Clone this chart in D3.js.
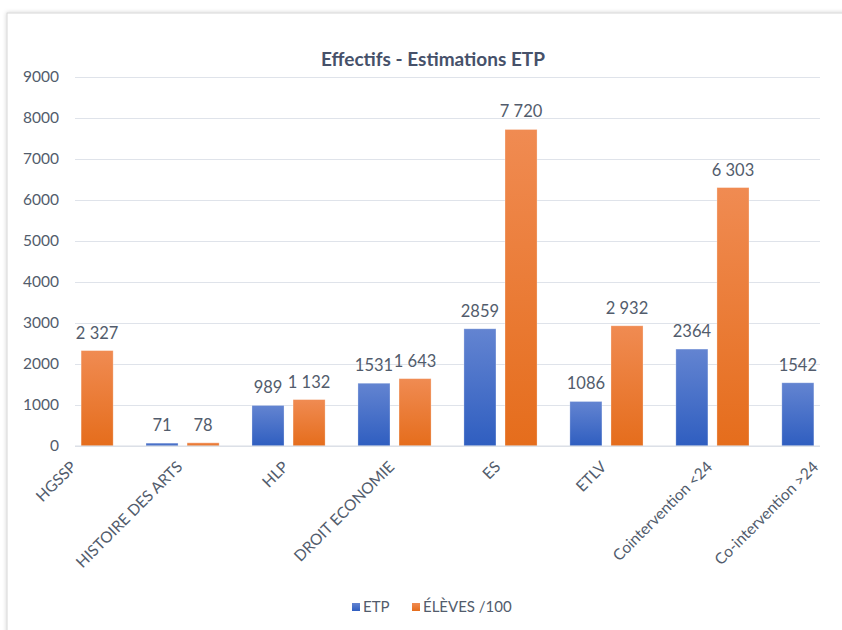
<!DOCTYPE html>
<html>
<head>
<meta charset="utf-8">
<script src="https://cdn.jsdelivr.net/npm/d3@7"></script>
<style>
  body { margin: 0; background: #fff; }
  svg { display: block; }
</style>
</head>
<body>
<svg id="chart" width="842" height="630"></svg>
<script>
// data
const categories = ["HGSSP", "HISTOIRE DES ARTS", "HLP", "DROIT ECONOMIE", "ES", "ETLV", "Cointervention <24", "Co-intervention >24"];
const etp = [null, 71, 989, 1531, 2859, 1086, 2364, 1542];
const eleves = [2327, 78, 1132, 1643, 7720, 2932, 6303, null];
const yTicks = [0, 1000, 2000, 3000, 4000, 5000, 6000, 7000, 8000, 9000];
const seriesNames = ["ETP", "ÉLÈVES /100"];

const textColor = "#525c6c";
const font = "Lato, 'Open Sans', sans-serif";

const svg = d3.select("#chart");
const defs = svg.append("defs");

// soft shadow for the chart card
const shadow = defs.append("filter").attr("id", "shadow")
    .attr("x", "-5%").attr("y", "-5%").attr("width", "110%").attr("height", "110%");
shadow.append("feDropShadow")
    .attr("dx", 0).attr("dy", 0).attr("stdDeviation", 2)
    .attr("flood-color", "#000").attr("flood-opacity", 0.18);

const gradients = [
    { id: "gBlue", top: "#6384d1", bottom: "#2f5ec0" },
    { id: "gOrange", top: "#f08b52", bottom: "#e56d1c" }
];
gradients.forEach(g => {
    const lg = defs.append("linearGradient").attr("id", g.id)
        .attr("x1", 0).attr("y1", 0).attr("x2", 0).attr("y2", 1);
    lg.append("stop").attr("offset", "0%").attr("stop-color", g.top);
    lg.append("stop").attr("offset", "100%").attr("stop-color", g.bottom);
});

svg.append("rect")
    .attr("x", 7).attr("y", 13)
    .attr("width", 900).attr("height", 640)
    .attr("fill", "#fff")
    .attr("stroke", "#d6d6d6")
    .attr("filter", "url(#shadow)");

const plotLeft = 75, plotRight = 820;

const y = d3.scaleLinear().domain([0, 9000]).range([446, 77]);

const x0 = d3.scaleBand()
    .domain(categories)
    .range([plotLeft, plotRight])
    .paddingInner(0.31)
    .paddingOuter(-0.33);

const x1 = d3.scaleBand()
    .domain([0, 1])
    .range([0, x0.bandwidth()])
    .paddingInner(0.22);

// title
svg.append("text")
    .attr("x", 433).attr("y", 66)
    .attr("text-anchor", "middle")
    .attr("font-family", font)
    .attr("font-weight", "bold")
    .attr("font-size", 19)
    .attr("fill", "#46516a")
    .text("Effectifs - Estimations ETP");

// gridlines + y axis labels
const yAxis = d3.axisLeft(y)
    .tickValues(yTicks)
    .tickSize(-(plotRight - plotLeft))
    .tickPadding(16)
    .tickFormat(d3.format("d"));

const yG = svg.append("g")
    .attr("transform", `translate(${plotLeft},0)`)
    .call(yAxis);
yG.select(".domain").remove();
yG.selectAll(".tick line").attr("stroke", "#dfe3ea").attr("stroke-width", 1);
yG.selectAll(".tick text")
    .attr("font-family", font)
    .attr("font-size", 15.5)
    .attr("fill", textColor);

// bars
const series = [etp, eleves];
const fills = ["url(#gBlue)", "url(#gOrange)"];
const fmtEtp = d3.format("d");
const frLocale = d3.formatLocale({ decimal: ",", thousands: "\u00a0", grouping: [3], currency: ["", " €"] });
const fmtEleves = frLocale.format(",d");
const formats = [fmtEtp, fmtEleves];

const barData = [];
categories.forEach((c, i) => {
    series.forEach((s, k) => {
        if (s[i] != null) barData.push({ cat: c, k: k, value: s[i] });
    });
});

const bars = svg.append("g");
bars.selectAll("rect")
    .data(barData)
    .join("rect")
    .attr("x", d => x0(d.cat) + x1(d.k))
    .attr("y", d => y(d.value))
    .attr("width", x1.bandwidth())
    .attr("height", d => y(0) - y(d.value))
    .attr("fill", d => fills[d.k])
    .attr("stroke", "#ffffff")
    .attr("stroke-opacity", 0.35)
    .attr("stroke-width", 0.8);

bars.selectAll("text")
    .data(barData)
    .join("text")
    .attr("x", d => x0(d.cat) + x1(d.k) + x1.bandwidth() / 2)
    .attr("y", d => y(d.value) - 12)
    .attr("text-anchor", "middle")
    .attr("font-family", font)
    .attr("font-size", 16.5)
    .attr("fill", textColor)
    .text(d => formats[d.k](d.value));

// x axis line and rotated labels
svg.append("line")
    .attr("x1", plotLeft).attr("x2", plotRight)
    .attr("y1", y(0)).attr("y2", y(0))
    .attr("stroke", "#d9dde4");

svg.append("g").selectAll("text")
    .data(categories)
    .join("text")
    .attr("transform", d => `translate(${x0(d) + x0.bandwidth() / 2 - 3},${y(0) + 18}) rotate(-45)`)
    .attr("text-anchor", "end")
    .attr("dy", "0.35em")
    .attr("font-family", font)
    .attr("font-size", 15.5)
    .attr("fill", textColor)
    .text(d => d);

// legend
const legend = svg.append("g").attr("transform", "translate(352,607)");
const legendX = [0, 60];
seriesNames.forEach((name, k) => {
    const g = legend.append("g").attr("transform", `translate(${legendX[k]},0)`);
    g.append("rect")
        .attr("x", 0).attr("y", -4)
        .attr("width", 8).attr("height", 8)
        .attr("fill", fills[k]);
    g.append("text")
        .attr("x", 11).attr("y", 0)
        .attr("dy", "0.35em")
        .attr("font-family", font)
        .attr("font-size", 15)
        .attr("fill", textColor)
        .text(name);
});
</script>
</body>
</html>
